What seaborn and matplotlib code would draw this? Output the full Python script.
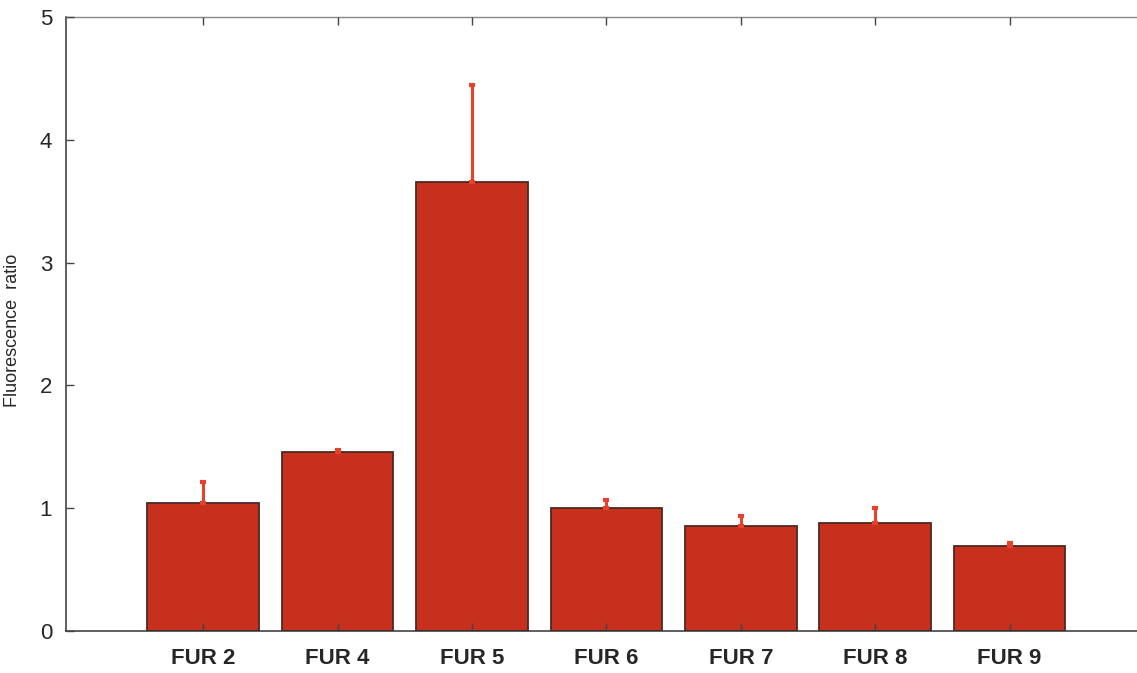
import matplotlib
matplotlib.use("Agg")
import matplotlib.pyplot as plt
import seaborn as sns
import pandas as pd

# Fluorescence ratio per strain, with upper error
strains = ["FUR 2", "FUR 4", "FUR 5", "FUR 6", "FUR 7", "FUR 8", "FUR 9"]
ratio = [1.04, 1.46, 3.66, 1.00, 0.855, 0.88, 0.69]
err_up = [0.17, 0.01, 0.79, 0.07, 0.08, 0.12, 0.03]
y_ticks = [0, 1, 2, 3, 4, 5]

sns.set_theme(style="white")
plt.rcParams["font.family"] = ["Liberation Sans", "DejaVu Sans"]

df = pd.DataFrame({"strain": strains, "ratio": ratio})

fig = plt.figure(figsize=(11.37, 6.73), dpi=100)
ax = fig.add_axes([66 / 1137, 42 / 673, 1078 / 1137, 614 / 673])

bar_color = "#C6301C"
edge_color = "#4a2a22"
sns.barplot(data=df, x="strain", y="ratio", color=bar_color, saturation=1,
            width=0.83, edgecolor=edge_color, linewidth=1.3, errorbar=None, ax=ax)

ax.errorbar(range(len(strains)), ratio, yerr=[[0] * len(strains), err_up],
            fmt="none", ecolor="#E8402A", elinewidth=2.2, capsize=2.5,
            capthick=3, zorder=1.5)

ax.set_xlim(-1.02, 7)
ax.set_ylim(0, 5)
ax.set_yticks(y_ticks)
ax.set_yticklabels([str(t) for t in y_ticks])
ax.set_xlabel("")
ax.set_ylabel("Fluorescence  ratio", fontsize=13)
ax.yaxis.set_label_coords(-0.042, 0.49)
ax.set_axisbelow(False)

ax.tick_params(axis="both", which="both", direction="in", length=6,
               width=1, color="#444444", top=True, right=False, left=True,
               bottom=True)
ax.tick_params(axis="y", labelsize=16, pad=10)
ax.tick_params(axis="x", labelsize=16, pad=12)
for lbl in ax.get_xticklabels():
    lbl.set_fontweight("semibold")

for side in ["left", "bottom"]:
    ax.spines[side].set_color("#333333")
    ax.spines[side].set_linewidth(1.1)
ax.spines["top"].set_color("#888888")
ax.spines["top"].set_linewidth(1.0)
ax.spines["right"].set_visible(False)

fig.savefig("out.png", dpi=100)
